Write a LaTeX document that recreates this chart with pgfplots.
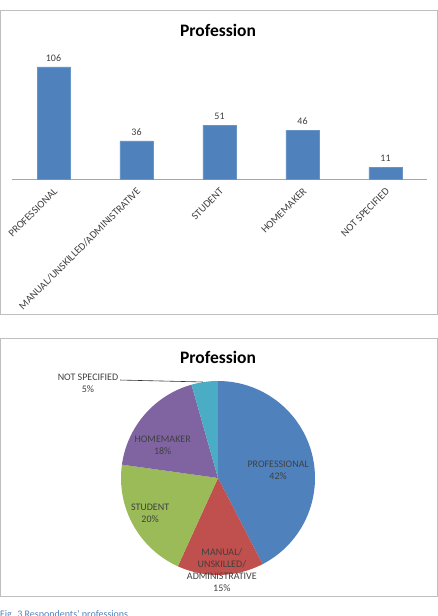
\documentclass[border=0pt]{standalone}
\usepackage{fontspec}
\setmainfont{Carlito}
\usepackage{pgfplots}
\pgfplotsset{compat=1.18}
\definecolor{cProf}{HTML}{4F81BD}
\definecolor{cMan}{HTML}{C0504D}
\definecolor{cStu}{HTML}{9BBB59}
\definecolor{cHome}{HTML}{8064A2}
\definecolor{cNot}{HTML}{4BACC6}
\definecolor{txt}{HTML}{404040}
\definecolor{frame}{HTML}{BFBFBF}
\definecolor{capblue}{HTML}{4F81BD}
\begin{document}
\begin{tikzpicture}[x=1pt,y=1pt]
\useasboundingbox (0,0) rectangle (438,616);
\draw[frame, line width=0.9pt] (0.6,606) rectangle (437,302);
\draw[frame, line width=0.9pt] (0.6,278) rectangle (437,20);
% ---------- bar chart ----------
\begin{axis}[
  at={(12pt,437pt)}, anchor=south west,
  width=415pt, height=126.8pt, scale only axis,
  xmin=-0.5, xmax=4.5, ymin=0, ymax=120,
  separate axis lines,
  axis x line*=bottom, hide y axis,
  x axis line style={black!35, line width=0.6pt},
  major tick length=0pt,
  /pgf/number format/assume math mode=true,
  xtick={0,1,2,3,4},
  xticklabels={PROFESSIONAL, MANUAL/UNSKILLED/ADMINISTRATIVE, STUDENT, HOMEMAKER, NOT SPECIFIED},
  xticklabel style={yshift=-10pt, xshift=3pt, rotate=45, anchor=east, font=\fontsize{10.5}{12}\selectfont, text=txt, inner sep=1pt},
  ybar, bar width=33pt,
  nodes near coords,
  nodes near coords style={font=\fontsize{10}{12}\selectfont, text=txt, yshift=2pt},
  clip=false,
]
\addplot[fill=cProf, draw=cProf!85!white] coordinates {(0,106) (1,36) (2,51) (3,46) (4,11)};
\end{axis}
\node[font=\bfseries\fontsize{17.5}{20}\selectfont] at (218,586) {Profession};
% ---------- pie chart ----------
\begin{axis}[
  at={(218pt,138pt)}, anchor=center,
  width=194pt, height=194pt, scale only axis,
  xmin=-1, xmax=1, ymin=-1, ymax=1,
  hide axis, clip=false,
]
\def\startang{90}
\foreach \v/\c in {106/cProf,36/cMan,51/cStu,46/cHome,11/cNot}{
  \pgfmathsetmacro\endang{\startang-\v/250*360}
  \edef\temp{\noexpand\fill[\c] (axis cs:0,0) -- (axis cs:{cos(\startang)},{sin(\startang)}) arc[start angle=\startang, end angle=\endang, radius=97pt] -- cycle;}
  \temp
  \global\let\startang\endang
}
\node[align=center, font=\fontsize{10}{12}\selectfont, text=txt] at (axis cs:0.62,0.08) {PROFESSIONAL\\42\%};
\node[align=center, font=\fontsize{10}{12}\selectfont, text=txt] at (axis cs:-0.57,0.34) {HOMEMAKER\\18\%};
\node[align=center, font=\fontsize{10}{12}\selectfont, text=txt] at (axis cs:-0.70,-0.36) {STUDENT\\20\%};
\node[align=center, font=\fontsize{10}{12.2}\selectfont, text=txt] at (axis cs:0.04,-0.95) {MANUAL/\\UNSKILLED/\\ADMINISTRATIVE\\15\%};
\node[align=center, font=\fontsize{10}{12}\selectfont, text=txt] at (axis cs:-1.34,0.98) {NOT SPECIFIED\\5\%};
\draw[black!80, line width=0.6pt] (axis cs:-1.01,1.01) -- (axis cs:-0.155,0.99);
\end{axis}
\node[font=\bfseries\fontsize{17.5}{20}\selectfont] at (218,259) {Profession};
\node[anchor=base west, inner sep=0pt, font=\fontsize{10}{12}\selectfont, text=capblue] at (0,-1.5) {Fig. 3 Respondents’ professions};
\end{tikzpicture}
\end{document}
